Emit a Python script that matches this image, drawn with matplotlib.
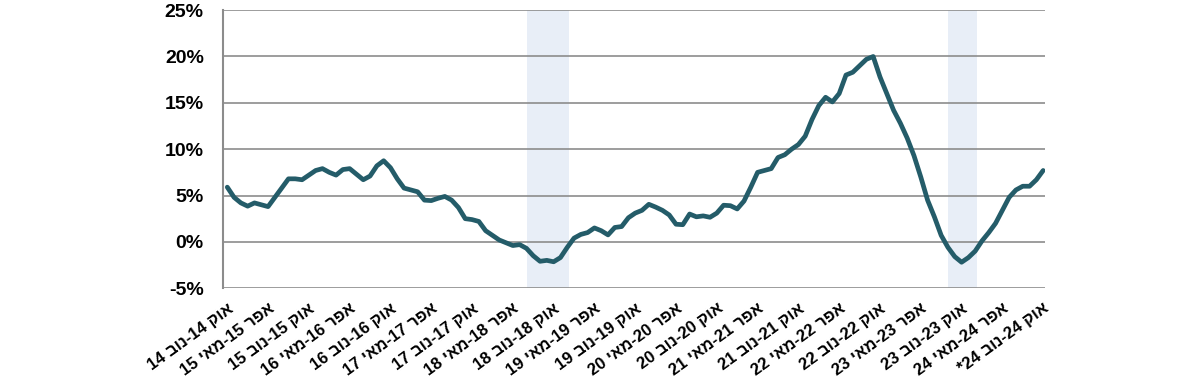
import matplotlib
matplotlib.use("Agg")
import matplotlib.pyplot as plt

plt.rcParams['font.family'] = ['Liberation Sans', 'DejaVu Sans']

# Monthly values (%), index 0 = first tick, 121 points
values = [
    5.9, 4.8, 4.2, 3.85, 4.2, 4.0, 3.8, 4.8, 5.8, 6.8,
    6.8, 6.7, 7.2, 7.7, 7.9, 7.5, 7.2, 7.8, 7.9, 7.3,
    6.7, 7.1, 8.2, 8.75, 8.0, 6.8, 5.8, 5.6, 5.4, 4.5,
    4.45, 4.7, 4.9, 4.5, 3.7, 2.5, 2.4, 2.2, 1.2, 0.7,
    0.2, -0.1, -0.4, -0.3, -0.7, -1.5, -2.1, -2.0, -2.15, -1.7,
    -0.6, 0.4, 0.8, 1.0, 1.5, 1.2, 0.75, 1.55, 1.65, 2.6,
    3.1, 3.4, 4.05, 3.75, 3.4, 2.9, 1.9, 1.85, 3.0, 2.7,
    2.8, 2.65, 3.1, 3.95, 3.9, 3.55, 4.4, 5.9, 7.5, 7.7,
    7.9, 9.1, 9.4, 10.0, 10.5, 11.4, 13.2, 14.7, 15.6, 15.1,
    16.0, 18.0, 18.3, 19.0, 19.7, 20.0, 17.8, 16.0, 14.2, 12.8,
    11.2, 9.3, 7.0, 4.5, 2.7, 0.7, -0.6, -1.6, -2.2, -1.7,
    -1.0, 0.1, 1.0, 2.0, 3.4, 4.8, 5.6, 6.0, 6.0, 6.7,
    7.7,
]

# Tick labels (logical Hebrew order), one every 6 months
tick_labels = [
    "אוק 14-נוב 14", "אפר 15-מאי 15", "אוק 15-נוב 15", "אפר 16-מאי 16",
    "אוק 16-נוב 16", "אפר 17-מאי 17", "אוק 17-נוב 17", "אפר 18-מאי 18",
    "אוק 18-נוב 18", "אפר 19-מאי 19", "אוק 19-נוב 19", "אפר 20-מאי 20",
    "אוק 20-נוב 20", "אפר 21-מאי 21", "אוק 21-נוב 21", "אפר 22-מאי 22",
    "אוק 22-נוב 22", "אפר 23-מאי 23", "אוק 23-נוב 23", "אפר 24-מאי 24",
    "אוק 24-נוב 24*",
]
tick_step = 6

# Shaded periods (month index ranges)
shaded = [(44.1, 50.3), (106.0, 110.2)]

y_ticks = [-5, 0, 5, 10, 15, 20, 25]
y_labels = ["-5%", "0%", "5%", "10%", "15%", "20%", "25%"]


def to_visual(label):
    """Reorder an RTL label (Hebrew words + numbers) for left-to-right drawing."""
    star = ""
    if label.endswith("*"):
        star = "*"
        label = label[:-1]
    left, right = label.split("-")
    m1, y1 = left.split(" ")
    m2, y2 = right.split(" ")
    return f"{star}{y2} {m2[::-1]}-{y1} {m1[::-1]}"


fig = plt.figure(figsize=(12, 3.91), dpi=100)
ax = fig.add_axes([0.186, 0.263, 0.685, 0.711])

x = list(range(len(values)))
for a, b in shaded:
    ax.axvspan(a, b, color="#e8eef7", lw=0, zorder=0)

for yt in y_ticks:
    ax.axhline(yt, color="#8c8c8c", lw=1.2, zorder=1)

ax.plot(x, values, color="#245c69", lw=3.4, solid_joinstyle="round",
        solid_capstyle="round", zorder=3)

ax.set_xlim(-0.6, 120.3)
ax.set_ylim(-5, 25)

ax.set_yticks(y_ticks)
ax.set_yticklabels(y_labels, fontsize=14, fontweight="bold")
tick_pos = [i * tick_step for i in range(len(tick_labels))]
ax.set_xticks(tick_pos)
ax.set_xticklabels([to_visual(t) for t in tick_labels], rotation=36,
                   ha="right", va="top", rotation_mode="anchor",
                   fontsize=12, fontweight="bold")
ax.tick_params(axis="both", length=0)
ax.tick_params(axis="y", pad=14)
ax.tick_params(axis="x", pad=9)

for s in ["top", "right", "bottom"]:
    ax.spines[s].set_visible(False)
ax.spines["left"].set_color("#8c8c8c")
ax.spines["left"].set_linewidth(1.5)

fig.savefig("out.png", dpi=100)
